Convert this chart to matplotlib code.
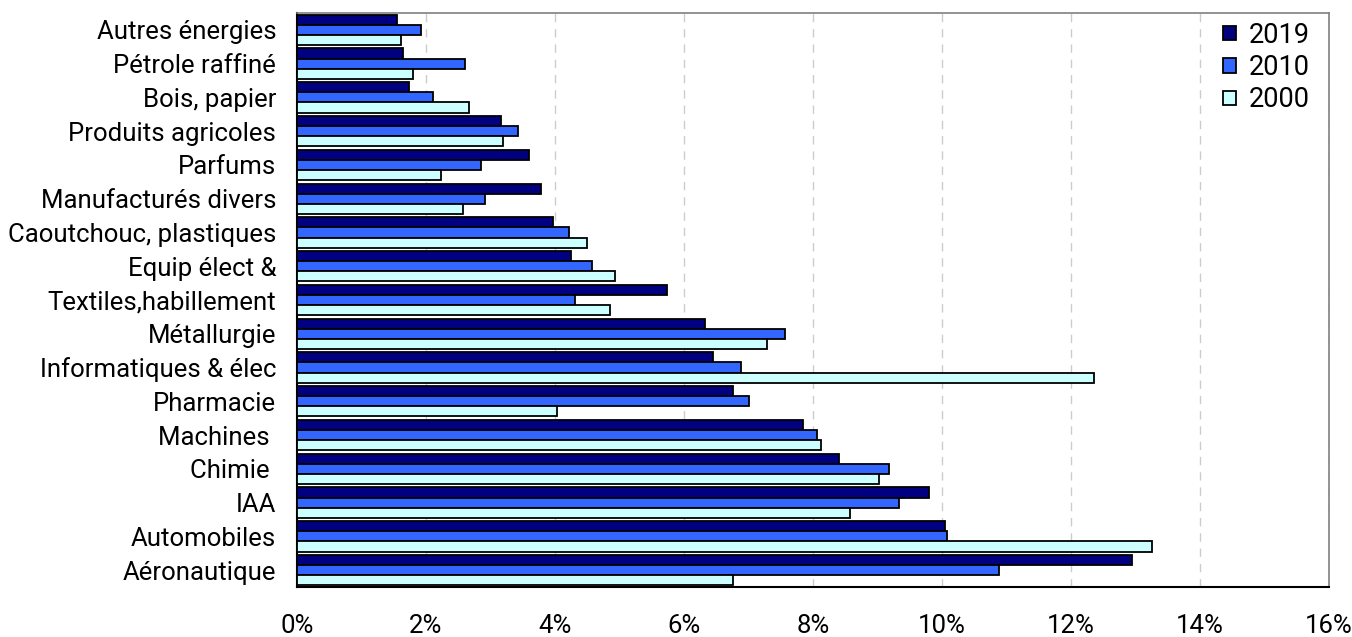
import numpy as np
import matplotlib.pyplot as plt
from matplotlib.ticker import FuncFormatter

plt.rcParams['font.family'] = ['Roboto', 'DejaVu Sans']

# Secteurs, du haut vers le bas
secteurs = ["Autres énergies", "Pétrole raffiné", "Bois, papier", "Produits agricoles",
            "Parfums", "Manufacturés divers", "Caoutchouc, plastiques", "Equip élect &",
            "Textiles,habillement", "Métallurgie", "Informatiques & élec", "Pharmacie",
            "Machines ", "Chimie ", "IAA", "Automobiles", "Aéronautique"]

# Parts en %
v2019 = [1.55, 1.64, 1.74, 3.17, 3.60, 3.79, 3.97, 4.25, 5.74, 6.33, 6.45, 6.76,
         7.84, 8.40, 9.80, 10.05, 12.94]
v2010 = [1.93, 2.60, 2.11, 3.42, 2.85, 2.91, 4.21, 4.58, 4.31, 7.57, 6.88, 7.01,
         8.06, 9.18, 9.33, 10.07, 10.88]
v2000 = [1.61, 1.80, 2.67, 3.19, 2.23, 2.57, 4.49, 4.93, 4.86, 7.29, 12.35, 4.03,
         8.12, 9.02, 8.58, 13.25, 6.76]

annees = ["2019", "2010", "2000"]
couleurs = ["#000080", "#3366FF", "#CCFFFF"]

fig = plt.figure(figsize=(13.52, 6.37), dpi=100)
ax = fig.add_axes([297 / 1352, 1 - 587 / 637, (1329 - 297) / 1352, (587 - 13) / 637])

y = np.arange(len(secteurs))
h = 0.3
for i, (vals, lab, c) in enumerate(zip([v2019, v2010, v2000], annees, couleurs)):
    ax.barh(y + (i - 1) * h, vals, height=h, color=c, edgecolor='black',
            linewidth=1.3, label=lab, zorder=3)

ax.set_ylim(len(secteurs) - 0.5, -0.5)
ax.set_xlim(0, 16)
ax.set_xticks(np.arange(0, 17, 2))
ax.xaxis.set_major_formatter(FuncFormatter(lambda v, p: f"{v:.0f}%"))
ax.set_yticks(y)
ax.set_yticklabels(secteurs)
ax.tick_params(axis='x', length=0, pad=19.5, labelsize=18.5)
ax.tick_params(axis='y', length=0, pad=15, labelsize=18.5)
ax.grid(axis='x', color='#cccccc', linestyle=(0, (6, 5)), linewidth=1, zorder=0)

for s in ['top', 'right']:
    ax.spines[s].set_color('#808080')
    ax.spines[s].set_linewidth(1.2)
for s in ['left', 'bottom']:
    ax.spines[s].set_color('black')
    ax.spines[s].set_linewidth(1.5)

ax.legend(loc='upper right', frameon=False, fontsize=19.5, handlelength=0.45,
          handleheight=0.45, handletextpad=0.5, labelspacing=0.2,
          bbox_to_anchor=(1.0, 1.018), borderaxespad=0.3)

fig.savefig('out.png', dpi=100)
